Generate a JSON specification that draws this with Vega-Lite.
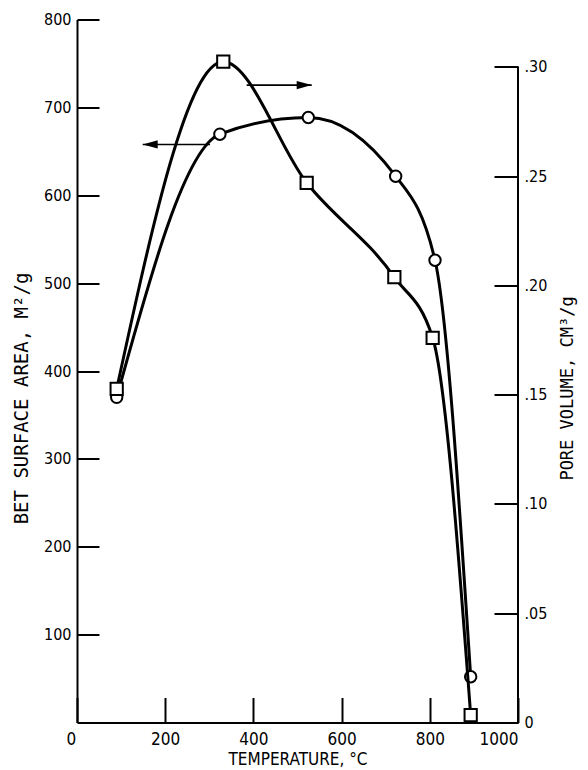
{
  "$schema": "https://vega.github.io/schema/vega-lite/v6.json",
  "width": 441,
  "height": 703,
  "autosize": {"type": "none"},
  "padding": {"left": 77, "top": 19.5, "right": 70, "bottom": 47.5},
  "background": "white",
  "config": {
    "view": {"stroke": null},
    "axis": {
      "grid": false,
      "domainColor": "black",
      "domainWidth": 2,
      "tickColor": "black",
      "tickWidth": 2,
      "labelColor": "black",
      "titleColor": "black",
      "labelFont": "'DejaVu Sans Condensed', 'DejaVu Sans', sans-serif",
      "titleFont": "'DejaVu Sans Mono', monospace",
      "labelFontWeight": "normal",
      "titleFontWeight": "normal"
    }
  },
  "datasets": {
    "surface": [
      {"temperature": 90, "area": 370},
      {"temperature": 324, "area": 669.5},
      {"temperature": 524.5, "area": 688.5},
      {"temperature": 722.6, "area": 621.7},
      {"temperature": 811.8, "area": 526},
      {"temperature": 892.7, "area": 52.1}
    ],
    "pore": [
      {"temperature": 90, "volume": 0.1526},
      {"temperature": 331.7, "volume": 0.3023},
      {"temperature": 520.8, "volume": 0.2469},
      {"temperature": 719.6, "volume": 0.2037},
      {"temperature": 806.5, "volume": 0.176},
      {"temperature": 892.7, "volume": 0.0034}
    ],
    "arrows": [
      {"series": "surface", "tail": 301.6, "tip": 149, "level": 657.8},
      {"series": "pore", "tail": 384.8, "tip": 532.2, "level": 0.2916}
    ]
  },
  "layer": [
    {
      "layer": [
        {
          "data": {"name": "surface"},
          "mark": {"type": "line", "interpolate": "monotone", "color": "black", "strokeWidth": 3},
          "encoding": {
            "x": {
              "field": "temperature", "type": "quantitative",
              "scale": {"domain": [0, 1000], "nice": false, "zero": false},
              "title": "TEMPERATURE, °C",
              "axis": {
                "values": [0, 200, 400, 600, 800, 1000],
                "format": "d",
                "tickSize": -25,
                "labelPadding": 34,
                "labelOffset": {"condition": {"test": "datum.value == 0", "value": -11}, "value": 0},
                "labelFontSize": 17,
                "labelAngle": 0,
                "titleFont": "'DejaVu Sans Condensed', 'DejaVu Sans', sans-serif",
                "titleFontSize": 17,
                "titleX": 220.5,
                "titleY": 42,
                "titleAlign": "center",
                "titleBaseline": "alphabetic"
              }
            },
            "y": {
              "field": "area", "type": "quantitative",
              "scale": {"domain": [0, 800], "nice": false},
              "title": "BET SURFACE AREA, M²/g",
              "axis": {
                "orient": "left",
                "values": [100, 200, 300, 400, 500, 600, 700, 800],
                "tickSize": -22,
                "labelPadding": 28,
                "labelFontSize": 16,
                "labelAlign": "right",
                "labelBaseline": "middle",
                "titleFontSize": 19,
                "titleAngle": 270,
                "titleX": -50,
                "titleY": 378.5,
                "titleAlign": "center",
                "titleBaseline": "alphabetic"
              }
            }
          }
        },
        {
          "data": {"name": "surface"},
          "mark": {"type": "point", "shape": "circle", "filled": true, "fill": "white", "stroke": "black", "strokeWidth": 2, "size": 130, "opacity": 1},
          "encoding": {
            "x": {"field": "temperature", "type": "quantitative", "title": "TEMPERATURE, °C"},
            "y": {"field": "area", "type": "quantitative", "title": "BET SURFACE AREA, M²/g"}
          }
        },
        {
          "data": {"name": "arrows"},
          "transform": [{"filter": "datum.series == 'surface'"}],
          "mark": {"type": "rule", "color": "black", "strokeWidth": 1.6},
          "encoding": {
            "x": {"field": "tail", "type": "quantitative", "title": "TEMPERATURE, °C"},
            "x2": {"field": "tip"},
            "y": {"field": "level", "type": "quantitative", "title": "BET SURFACE AREA, M²/g"}
          }
        },
        {
          "data": {"name": "arrows"},
          "transform": [{"filter": "datum.series == 'surface'"}],
          "mark": {"type": "point", "shape": "M0,0L2,-0.55L2,0.55Z", "filled": true, "color": "black", "size": 225, "opacity": 1, "strokeWidth": 0},
          "encoding": {
            "x": {"field": "tip", "type": "quantitative", "title": "TEMPERATURE, °C"},
            "y": {"field": "level", "type": "quantitative", "title": "BET SURFACE AREA, M²/g"}
          }
        }
      ]
    },
    {
      "layer": [
        {
          "data": {"name": "pore"},
          "mark": {"type": "line", "interpolate": "monotone", "color": "black", "strokeWidth": 3},
          "encoding": {
            "x": {"field": "temperature", "type": "quantitative", "title": "TEMPERATURE, °C"},
            "y": {
              "field": "volume", "type": "quantitative",
              "scale": {"domain": [0, 0.3216], "nice": false},
              "title": "PORE VOLUME, CM³/g",
              "axis": {
                "orient": "right",
                "domain": false,
                "values": [0, 0.05, 0.1, 0.15, 0.2, 0.25, 0.3],
                "labelExpr": "datum.value == 0 ? '0' : replace(format(datum.value, '.2f'), '0.', '.')",
                "tickSize": -24,
                "labelPadding": 30,
                "labelFontSize": 16,
                "labelAlign": "left",
                "labelBaseline": "middle",
                "titleFontSize": 17,
                "titleAngle": 270,
                "titleX": 54,
                "titleY": 368.5,
                "titleAlign": "center",
                "titleBaseline": "alphabetic"
              }
            }
          }
        },
        {
          "data": {"name": "pore"},
          "mark": {"type": "point", "shape": "square", "filled": true, "fill": "white", "stroke": "black", "strokeWidth": 2, "size": 150, "opacity": 1},
          "encoding": {
            "x": {"field": "temperature", "type": "quantitative", "title": "TEMPERATURE, °C"},
            "y": {"field": "volume", "type": "quantitative", "title": "PORE VOLUME, CM³/g"}
          }
        },
        {
          "data": {"name": "arrows"},
          "transform": [{"filter": "datum.series == 'pore'"}],
          "mark": {"type": "rule", "color": "black", "strokeWidth": 1.6},
          "encoding": {
            "x": {"field": "tail", "type": "quantitative", "title": "TEMPERATURE, °C"},
            "x2": {"field": "tip"},
            "y": {"field": "level", "type": "quantitative", "title": "PORE VOLUME, CM³/g"}
          }
        },
        {
          "data": {"name": "arrows"},
          "transform": [{"filter": "datum.series == 'pore'"}],
          "mark": {"type": "point", "shape": "M0,0L-2,-0.55L-2,0.55Z", "filled": true, "color": "black", "size": 225, "opacity": 1, "strokeWidth": 0},
          "encoding": {
            "x": {"field": "tip", "type": "quantitative", "title": "TEMPERATURE, °C"},
            "y": {"field": "level", "type": "quantitative", "title": "PORE VOLUME, CM³/g"}
          }
        },
        {
          "data": {"values": [{}]},
          "mark": {"type": "rule", "color": "black", "strokeWidth": 2},
          "encoding": {
            "x": {"datum": 1000, "type": "quantitative"},
            "y": {"datum": 0, "type": "quantitative"},
            "y2": {"datum": 0.3}
          }
        }
      ]
    }
  ],
  "resolve": {"scale": {"y": "independent"}}
}
